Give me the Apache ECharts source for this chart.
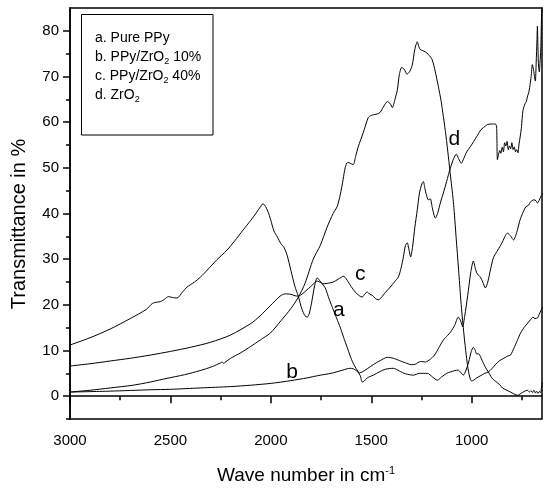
<!DOCTYPE html>
<html><head><meta charset="utf-8">
<script src="https://cdn.jsdelivr.net/npm/echarts@6/dist/echarts.min.js"></script>
<style>html,body{margin:0;padding:0;background:#fff}#c{width:543px;height:491px}</style>
</head><body><div id="c"></div>
<script>
// ---- data (wavenumber in cm^-1, transmittance in %) ----
const waveA = [3000,2900,2800,2700,2620,2590,2567,2550,2530,2510,2490,2467,2440,2417,2380,2350,2317,2270,2218,2180,2138,2100,2070,2053,2040,2030,2015,2000,1985,1968,1950,1935,1920,1900,1880,1864,1845,1830,1819,1808,1795,1782,1769,1755,1742,1729,1710,1689,1672,1655,1638,1620,1605,1590,1572,1555,1545,1535,1520,1490,1460,1430,1390,1360,1330,1290,1260,1221,1195,1171,1150,1125,1106,1085,1067,1055,1042,1030,1015,1002,992,982,975,967,960,945,930,917,900,880,860,847,830,807,790,772,755,740,723,712,705,698,690,683,677,670,663,657,652,648,645];
const transA = [11.2,12.8,14.7,17.0,19.0,20.3,20.6,20.7,21.2,21.8,21.6,21.5,22.8,23.9,25.0,26.1,27.6,29.8,32.0,34.0,36.4,38.5,40.3,41.4,42.1,41.8,40.5,38.5,36.2,34.9,33.4,32.6,31.0,27.5,24.0,22.0,19.0,17.6,17.3,18.2,21.0,24.2,25.9,25.2,24.5,23.7,21.3,18.9,17.0,15.1,12.9,10.7,8.8,7.2,5.8,4.5,3.1,3.3,4.0,4.6,5.3,5.9,6.1,5.5,4.9,4.6,5.0,5.0,4.2,3.5,4.2,5.0,5.3,5.6,5.7,5.2,4.6,5.5,7.5,9.8,10.7,10.0,9.2,9.3,9.0,7.5,6.2,5.3,4.0,3.2,2.5,1.8,1.4,0.9,0.5,0.2,0.6,1.0,1.3,0.9,1.2,0.8,1.3,0.7,1.1,0.6,1.0,0.8,2.0,2.9,3.2];

const waveB = [3000,2800,2600,2500,2352,2200,2100,2000,1900,1820,1754,1700,1650,1620,1605,1590,1575,1560,1545,1520,1490,1455,1420,1390,1360,1330,1300,1280,1255,1230,1206,1185,1165,1141,1120,1106,1085,1067,1055,1045,1035,1020,1005,992,982,975,967,957,945,932,920,905,892,870,850,822,805,792,775,760,747,730,717,708,690,680,673,665,655,645];
const transB = [0.9,1.1,1.4,1.5,1.8,2.1,2.4,2.8,3.4,4.0,4.6,5.0,5.6,6.0,6.1,6.0,5.6,5.1,5.3,6.0,6.9,7.8,8.5,8.3,7.8,7.3,6.9,7.0,7.6,7.5,8.1,9.0,10.5,12.3,13.3,14.0,15.5,17.3,16.5,15.2,17.5,22.0,27.0,29.6,28.0,27.0,26.5,26.1,25.0,23.7,25.0,28.0,30.3,32.0,33.5,35.7,35.0,34.2,36.0,38.5,40.0,41.5,41.8,42.5,43.0,42.8,42.3,42.8,43.8,44.5];

const waveC = [3000,2900,2800,2700,2600,2500,2400,2300,2200,2100,2053,2003,1954,1929,1900,1880,1864,1840,1820,1804,1785,1769,1750,1744,1720,1689,1665,1650,1640,1630,1620,1600,1580,1560,1545,1530,1520,1507,1495,1480,1465,1450,1430,1405,1385,1365,1352,1340,1330,1321,1312,1304,1295,1283,1271,1260,1248,1241,1233,1225,1216,1206,1195,1181,1170,1155,1141,1125,1106,1090,1077,1065,1052,1040,1025,1007,990,970,955,942,920,900,882,876,872,866,860,855,848,842,836,830,824,818,812,806,800,794,788,782,776,770,765,758,752,745,735,728,723,716,710,704,698,692,686,683,679,675,673,670,667,663,660,656,653,650];
const transC = [6.6,7.1,7.7,8.3,9.0,9.8,10.7,11.8,13.4,15.9,17.6,19.8,21.9,22.4,22.3,22.0,21.9,22.5,23.3,23.9,24.7,25.2,24.8,24.6,24.7,25.0,25.6,26.0,26.3,26.0,25.4,24.0,22.8,22.0,21.7,22.5,22.8,22.3,22.1,21.4,21.1,21.6,22.7,23.9,25.0,26.1,28.0,30.5,33.0,33.6,32.0,30.5,32.5,37.0,40.8,44.5,46.5,47.0,45.5,44.0,43.0,43.2,41.0,39.0,40.0,42.5,44.5,47.0,50.0,52.0,53.0,52.0,51.0,52.0,53.5,54.6,55.8,57.2,58.3,58.8,59.5,59.6,59.6,59.0,51.8,53.0,53.8,53.2,54.5,53.5,55.5,54.8,55.8,54.0,54.8,54.2,55.5,54.0,54.6,53.5,54.0,53.3,55.0,57.0,59.0,62.5,64.0,64.5,65.5,66.5,68.0,70.0,72.6,71.5,69.5,69.0,73.0,78.0,81.0,76.0,72.0,71.0,73.0,76.0,82.0,86.0];

const waveD = [3000,2900,2800,2686,2600,2517,2430,2352,2290,2250,2243,2235,2228,2200,2150,2100,2053,2003,1950,1900,1864,1830,1789,1754,1720,1690,1670,1655,1640,1630,1618,1605,1590,1578,1565,1540,1515,1500,1470,1455,1440,1420,1405,1395,1382,1370,1360,1348,1335,1322,1310,1296,1283,1271,1263,1256,1245,1231,1215,1197,1182,1166,1153,1141,1128,1116,1105,1090,1078,1065,1055,1042,1030,1020,1010,1000,990,975,955,935,917,900,880,860,840,820,807,790,775,757,740,725,708,695,685,673,665,655,645];
const transD = [0.9,1.3,1.8,2.4,3.1,3.9,4.7,5.6,6.5,7.3,7.5,7.2,7.4,8.3,9.5,10.9,12.3,13.8,16.5,19.2,21.6,24.7,30.0,33.0,37.0,40.0,41.5,44.0,47.5,50.0,51.2,51.0,50.7,52.5,54.6,57.7,61.0,61.5,61.8,62.2,63.3,64.5,64.0,63.2,65.0,67.1,70.5,72.0,71.5,70.5,71.0,72.5,76.0,77.6,76.5,75.9,75.7,75.4,74.8,73.7,71.2,67.8,64.8,61.2,57.0,52.4,48.0,42.0,35.0,27.5,21.5,15.0,10.0,6.5,4.2,3.3,3.5,4.0,4.5,5.0,5.3,6.0,7.0,7.8,8.3,8.8,9.0,10.5,12.0,13.8,15.0,15.8,16.7,17.3,17.0,17.1,17.8,18.8,19.5];

const majorX = [1000,1500,2000,2500,3000];
const minorX = [750,1250,1750,2250,2750];
const majorY = [0,10,20,30,40,50,60,70,80];
const minorY = [-5,5,15,25,35,45,55,65,75];

const curveLetters = ['a','b','c','d'];
const curveLetterX = [1662,1894,1555,1087];
const curveLetterY = [18.9,5.3,26.7,56.2];

const legendLines = [
  '{t|a. Pure PPy}',
  '{t|b. PPy/ZrO}{s|2}{t| 10%}',
  '{t|c. PPy/ZrO}{s|2}{t| 40%}',
  '{t|d. ZrO}{s|2}'
];

// ---- chart ----
const FONT = '"Liberation Sans", Arial, Helvetica, sans-serif';
const chart = echarts.init(document.getElementById('c'), null, {renderer: 'canvas'});
const pair = (xs, ys) => xs.map((x, i) => [x, ys[i]]);
const blk = {color: '#000', width: 1.5};
const xBase = {type: 'value', min: 650, max: 3000, inverse: true, position: 'bottom', splitLine: {show: false}};
const yBase = {type: 'value', min: -5, max: 85, position: 'left', splitLine: {show: false}};
const lineSeries = (name, xs, ys) => ({
  name, type: 'line', data: pair(xs, ys), showSymbol: false, symbol: 'none',
  smooth: 0.25, lineStyle: {color: '#000', width: 1}, silent: true, z: 3
});

const graphics = [
  {type: 'rect', shape: {x: 81.5, y: 14.5, width: 131.5, height: 120.5},
   style: {fill: '#fff', stroke: '#000', lineWidth: 1}, z: 10},
  {type: 'text', x: 19.5, y: 224, rotation: Math.PI / 2,
   style: {text: 'Transmittance in %', font: '20px ' + FONT, fill: '#000', align: 'center', verticalAlign: 'middle'}},
  {type: 'text', x: 217, y: 476,
   style: {text: '{n|Wave number in cm}{s|-1}', fill: '#000', align: 'left', verticalAlign: 'middle',
     rich: {n: {fontSize: 19, fontFamily: FONT, fill: '#000', lineHeight: 22},
            s: {fontSize: 11, fontFamily: FONT, fill: '#000', verticalAlign: 'top', lineHeight: 22}}}}
];
legendLines.forEach((txt, i) => {
  graphics.push({type: 'text', x: 95, y: 38 + i * 19, z: 11,
    style: {text: txt, fill: '#000', align: 'left', verticalAlign: 'middle',
      rich: {t: {fontSize: 14, fontFamily: FONT, fill: '#000', lineHeight: 18},
             s: {fontSize: 9, fontFamily: FONT, fill: '#000', verticalAlign: 'bottom', lineHeight: 9}}}});
});

chart.setOption({
  animation: false,
  backgroundColor: '#fff',
  grid: {left: 70, right: 1, top: 8, bottom: 72, show: true, borderColor: '#000', borderWidth: 1.5, backgroundColor: 'transparent'},
  xAxis: [
    Object.assign({}, xBase, {
      axisLine: {lineStyle: blk},
      axisTick: {customValues: majorX, length: 7, lineStyle: blk},
      axisLabel: {customValues: majorX, formatter: v => String(v), color: '#000', fontSize: 15, fontFamily: FONT, margin: 14}
    }),
    Object.assign({}, xBase, {
      axisLine: {show: false},
      axisTick: {customValues: minorX, length: 4, lineStyle: blk},
      axisLabel: {show: false}
    })
  ],
  yAxis: [
    Object.assign({}, yBase, {
      axisLine: {show: true, lineStyle: blk},
      axisTick: {show: true, customValues: majorY, length: 7, lineStyle: blk},
      axisLabel: {customValues: majorY, formatter: v => String(v), color: '#000', fontSize: 15, fontFamily: FONT, margin: 11}
    }),
    Object.assign({}, yBase, {
      axisLine: {show: false},
      axisTick: {show: true, customValues: minorY, length: 4, lineStyle: blk},
      axisLabel: {show: false}
    })
  ],
  series: [
    lineSeries('a. Pure PPy', waveA, transA),
    lineSeries('b. PPy/ZrO2 10%', waveB, transB),
    lineSeries('c. PPy/ZrO2 40%', waveC, transC),
    lineSeries('d. ZrO2', waveD, transD),
    {
      type: 'scatter', silent: true, symbolSize: 0, itemStyle: {color: '#000', opacity: 1},
      data: curveLetters.map((l, i) => [curveLetterX[i], curveLetterY[i], l]),
      label: {show: true, position: 'inside', formatter: p => p.value[2], color: '#000', opacity: 1,
              textBorderWidth: 0, fontSize: 21, fontFamily: FONT},
      labelLayout: {hideOverlap: false},
      z: 5
    }
  ],
  graphic: graphics
});
</script></body></html>
